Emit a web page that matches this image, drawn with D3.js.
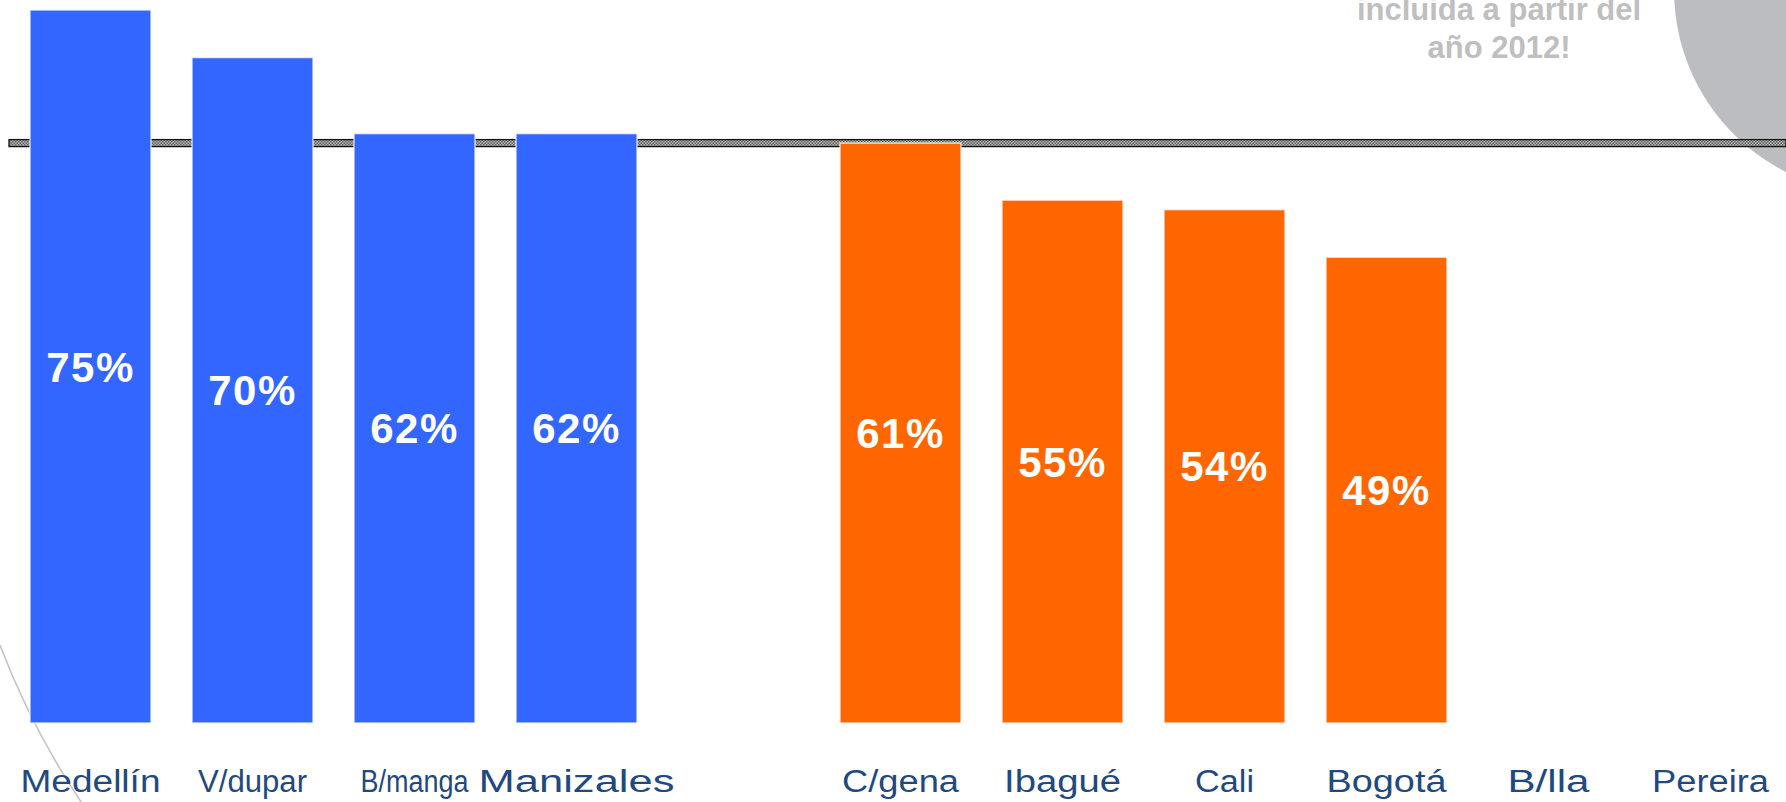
<!DOCTYPE html>
<html>
<head>
<meta charset="utf-8">
<script src="https://cdn.jsdelivr.net/npm/d3@7"></script>
<style>
  html, body { margin: 0; padding: 0; background: #fff; }
  svg { display: block; }
</style>
</head>
<body>
<svg id="chart" width="1786" height="802"></svg>
<script>
// ---- data ----
const categories = ["Medellín", "V/dupar", "B/manga", "Manizales", " ", "C/gena", "Ibagué", "Cali", "Bogotá", "B/lla", "Pereira"];
const values     = [75, 70, 62, 62, null, 61, 55, 54, 49, null, null];
const groups     = ["a", "a", "a", "a", null, "b", "b", "b", "b", "b", "b"];
const referenceValue = 61;
const noteLines  = ["incluida a partir del", "año 2012!"];

// ---- layout / style (rendered text box widths of the category labels) ----
const labelBoxWidths = [140, 109, 108, 196, 0, 117, 117, 59, 120, 82, 117];

const W = 1786, H = 802;
const svg = d3.select("#chart");

const colors = { a: "#3366FF", b: "#FF6600" };
const FONT = "Liberation Sans, Arial, sans-serif";

const x = d3.scaleBand()
  .domain(categories)
  .range([9.5, 9.5 + 162 * categories.length])
  .paddingInner(41 / 162)
  .paddingOuter(41 / 324);

const y = d3.scaleLinear().domain([0, 75]).range([723, 10]);

// decorative grey circle, top right
svg.append("circle")
  .attr("cx", 1878).attr("cy", -10).attr("r", 204)
  .attr("fill", "#BCBDC0");

// thin decorative arc, bottom left
svg.append("path")
  .attr("d", "M0,645 A778,778 0 0,0 95,822")
  .attr("fill", "none")
  .attr("stroke", "#C4C4C4")
  .attr("stroke-width", 1.6);

// hatched pattern for reference line
const defs = svg.append("defs");
const pat = defs.append("pattern")
  .attr("id", "hatch").attr("patternUnits", "userSpaceOnUse")
  .attr("width", 3).attr("height", 3);
pat.append("rect").attr("width", 3).attr("height", 3).attr("fill", "#B0B0B0");
pat.append("rect").attr("width", 1.5).attr("height", 1.5).attr("fill", "#666");
pat.append("rect").attr("x", 1.5).attr("y", 1.5).attr("width", 1.5).attr("height", 1.5).attr("fill", "#666");

// reference line
const ry = y(referenceValue);
svg.append("rect")
  .attr("x", 9).attr("y", ry - 3.5)
  .attr("width", W - 9).attr("height", 7)
  .attr("fill", "url(#hatch)")
  .attr("stroke", "#111").attr("stroke-width", 1.3);

// bars
const data = categories.map((c, i) => ({ c, v: values[i], g: groups[i] }));
svg.append("g").selectAll("rect")
  .data(data.filter(d => d.v != null))
  .join("rect")
  .attr("x", d => x(d.c))
  .attr("y", d => y(d.v))
  .attr("width", x.bandwidth())
  .attr("height", d => y(0) - y(d.v))
  .attr("fill", d => colors[d.g])
  .attr("stroke", "#ffffff")
  .attr("stroke-opacity", 0.7)
  .attr("stroke-width", 1.5);

// value labels
svg.append("g").selectAll("text")
  .data(data.filter(d => d.v != null))
  .join("text")
  .attr("x", d => x(d.c) + x.bandwidth() / 2)
  .attr("y", d => (y(d.v) + y(0)) / 2)
  .attr("dy", "0.36em")
  .attr("text-anchor", "middle")
  .attr("font-family", FONT)
  .attr("font-weight", "bold")
  .attr("font-size", 42)
  .attr("letter-spacing", 1.5)
  .attr("fill", "#ffffff")
  .text(d => d.v + "%");

// category labels
const xAxis = d3.axisBottom(x).tickSize(0).tickPadding(0);
const ax = svg.append("g")
  .attr("transform", `translate(0,${y(0)})`)
  .call(xAxis);
ax.select(".domain").remove();
ax.selectAll("text")
  .attr("y", 69)
  .attr("dy", 0)
  .attr("font-family", FONT)
  .attr("font-size", 31)
  .attr("fill", "#22497F")
  .each(function (d) {
    const i = categories.indexOf(d);
    const target = labelBoxWidths[i];
    if (!target) return;
    d3.select(this)
      .attr("textLength", target)
      .attr("lengthAdjust", "spacingAndGlyphs");
  });

// note text, top right
svg.append("g").selectAll("text")
  .data(noteLines)
  .join("text")
  .attr("x", 1499)
  .attr("y", (d, i) => 20 + i * 38)
  .attr("text-anchor", "middle")
  .attr("font-family", FONT)
  .attr("font-weight", "bold")
  .attr("font-size", 31)
  .attr("fill", "#BFBFBF")
  .text(d => d);
</script>
</body>
</html>
